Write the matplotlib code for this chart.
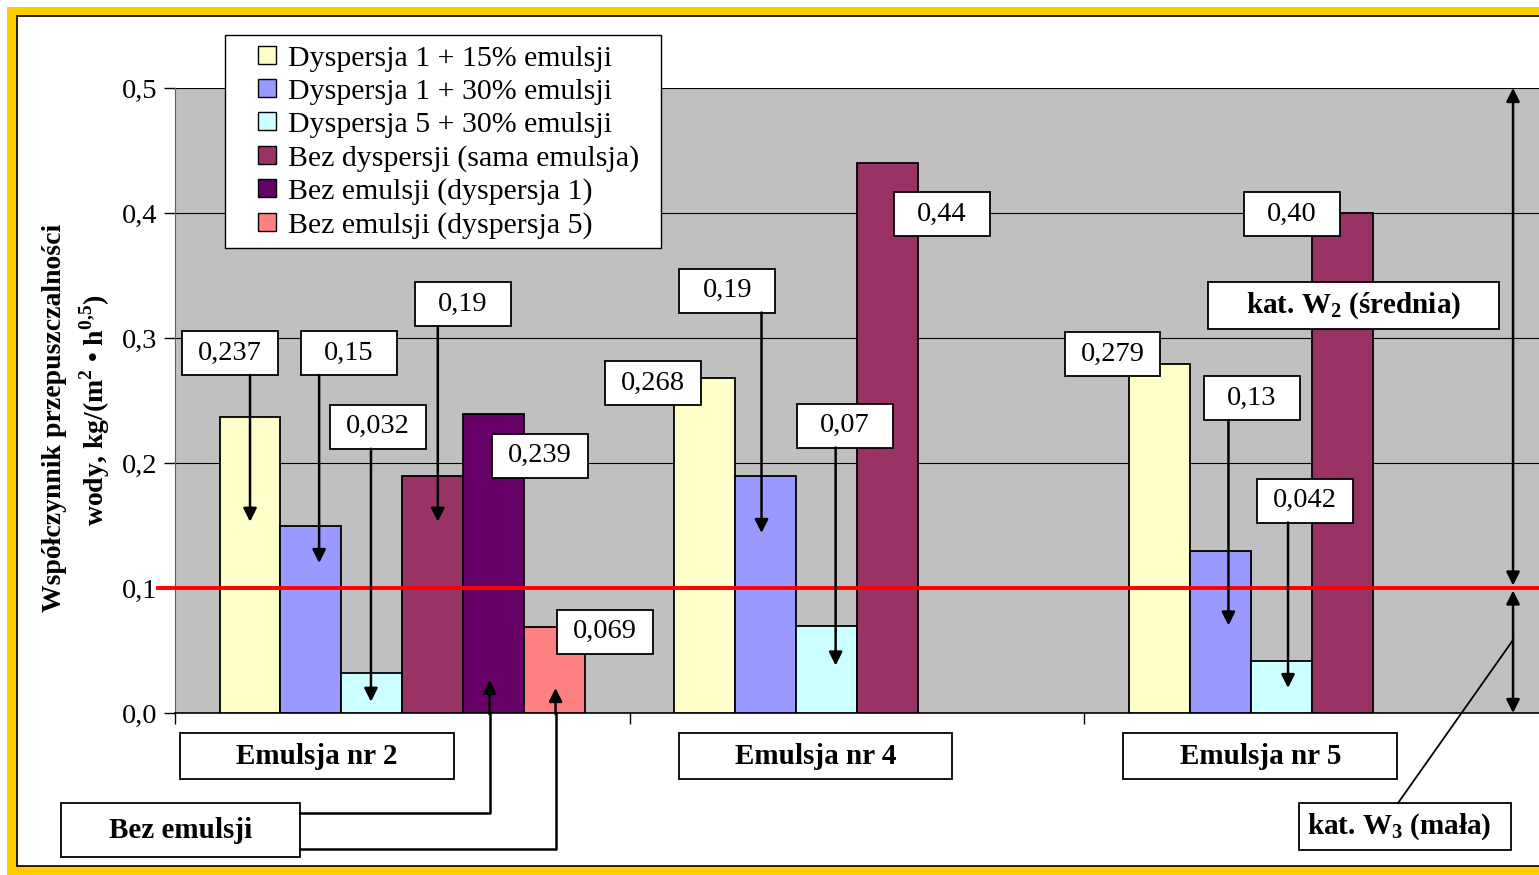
import matplotlib
matplotlib.use('Agg')
import matplotlib.pyplot as plt
from matplotlib.patches import Rectangle, Patch
from matplotlib.ticker import FuncFormatter

plt.rcParams['font.family'] = ['Liberation Serif', 'DejaVu Serif']
plt.rcParams['mathtext.fontset'] = 'custom'
plt.rcParams['mathtext.rm'] = 'Liberation Serif'
plt.rcParams['mathtext.bf'] = 'Liberation Serif:bold'

# dane
groups = ['Emulsja nr 2', 'Emulsja nr 4', 'Emulsja nr 5']
series_names = ['Dyspersja 1 + 15% emulsji', 'Dyspersja 1 + 30% emulsji',
                'Dyspersja 5 + 30% emulsji', 'Bez dyspersji (sama emulsja)',
                'Bez emulsji (dyspersja 1)', 'Bez emulsji (dyspersja 5)']
d1_15 = ['0,237', '0,268', '0,279']
d1_30 = ['0,15', '0,19', '0,13']
d5_30 = ['0,032', '0,07', '0,042']
bez_dysp = ['0,19', '0,44', '0,40']
bez_em_d1 = ['0,239', None, None]
bez_em_d5 = ['0,069', None, None]
series = [d1_15, d1_30, d5_30, bez_dysp, bez_em_d1, bez_em_d5]
colors = ['#FFFFCC', '#9999FF', '#CCFFFF', '#993366', '#660066', '#FF8080']
limit_w2 = 0.1

# polozenie etykiet: (przesuniecie ramki, wysokosc ramki, przesuniecie strzalki, koniec strzalki)
label_pos = [
    [(-0.044, 0.288, 0.0, 0.153), (-0.114, 0.264, None, None), (-0.103, 0.287, None, None)],
    [(0.084, 0.288, 0.018, 0.120), (-0.084, 0.338, -0.009, 0.144), (0.070, 0.252, 0.018, 0.070)],
    [(0.013, 0.229, -0.002, 0.009), (0.040, 0.230, 0.020, 0.038), (0.053, 0.170, 0.015, 0.020)],
    [(0.066, 0.327, 0.011, 0.153), (0.119, 0.399, None, None), (-0.110, 0.399, None, None)],
    [(0.101, 0.206, None, None), None, None],
    [(0.110, 0.065, None, None), None, None],
]
group_box_dx = [-0.188, -0.091, -0.113]

W, H = 1539, 875
fig = plt.figure(figsize=(W / 100, H / 100), dpi=100)
fig.patch.set_facecolor('white')

# ramka
fig.patches.append(Rectangle((7 / W, 0), 1, 868 / H, transform=fig.transFigure,
                             facecolor='#FFCC00', edgecolor='none', zorder=-10))
fig.patches.append(Rectangle((17 / W, 9 / H), 1, 850 / H, transform=fig.transFigure,
                             facecolor='white', edgecolor='black', lw=1.2, zorder=-9))

ax = fig.add_axes([175 / W, 1 - 713 / H, (W - 175) / W, 625 / H])
ax.set_facecolor('#C0C0C0')
ax.set_xlim(-0.5, 2.5)
ax.set_ylim(0, 0.5)

bw = 0.134
n = len(series)


def bar_x(g, i):
    return g - bw * n / 2 + (i + 0.5) * bw


def num(s):
    return float(s.replace(',', '.'))


bw_box, bh_box = 0.211, 0.0352


def boxed(x0, x1, y0, y1, text, size=20.5, weight='normal', tx=None, ha='center'):
    ax.add_patch(Rectangle((x0, y0), x1 - x0, y1 - y0, facecolor='white',
                           edgecolor='black', lw=1.3, clip_on=False, zorder=6))
    if tx is None:
        tx = (x0 + x1) / 2
    ax.text(tx, (y0 + y1) / 2, text, ha=ha, va='center', fontsize=size,
            fontweight=weight, zorder=7, clip_on=False)


def arrow(x0, y0, x1, y1, style='-|>'):
    ax.annotate('', xy=(x1, y1), xytext=(x0, y0), annotation_clip=False,
                arrowprops=dict(arrowstyle=style, color='black', lw=1.8,
                                mutation_scale=20, shrinkA=0, shrinkB=0),
                zorder=8)


for i, vals in enumerate(series):
    for g, s in enumerate(vals):
        if s is None:
            continue
        x = bar_x(g, i)
        ax.bar(x, num(s), width=bw, color=colors[i], edgecolor='black', lw=1.3, zorder=3)
        dx, yb, dax, ytip = label_pos[i][g]
        boxed(x + dx - bw_box / 2, x + dx + bw_box / 2, yb - bh_box / 2, yb + bh_box / 2, s)
        if ytip is not None:
            arrow(x + dax, yb - bh_box / 2, x + dax, ytip)

# granica kategorii W2 / W3
ax.plot([-0.537, 2.5], [limit_w2, limit_w2], color='#FF0000', lw=2.8,
        clip_on=False, zorder=5)

ax.set_axisbelow(True)
ax.yaxis.grid(True, color='black', lw=0.8)
ax.set_yticks([0, 0.1, 0.2, 0.3, 0.4, 0.5])
ax.yaxis.set_major_formatter(FuncFormatter(lambda v, p: f'{v:.1f}'.replace('.', ',')))
ax.tick_params(axis='y', direction='out', length=8, width=1, labelsize=20.5, pad=5)
ax.set_xticks([-0.5, 0.5, 1.5])
ax.set_xticklabels([])
ax.tick_params(axis='x', direction='out', length=8, width=1)
for side in ['top', 'right']:
    ax.spines[side].set_visible(False)
ax.spines['left'].set_color('#606060')
ax.spines['bottom'].set_color('black')
ax.spines['bottom'].set_linewidth(1.2)

# podpisy grup
for g, name in enumerate(groups):
    cx = g + group_box_dx[g]
    boxed(cx - 0.301, cx + 0.301, -0.0528, -0.016, name, size=21, weight='bold')

# Bez emulsji
boxed(-0.7505, -0.2253, -0.1152, -0.072, 'Bez emulsji', size=21, weight='bold')
x5 = bar_x(0, 4) - 0.009
x6 = bar_x(0, 5) + 0.002
ax.plot([-0.2253, x5, x5], [-0.080, -0.080, 0.0], color='black', lw=1.8, clip_on=False, zorder=8)
arrow(x5, -0.001, x5, 0.0264)
ax.plot([-0.2253, x6, x6], [-0.1088, -0.1088, 0.0], color='black', lw=1.8, clip_on=False, zorder=8)
arrow(x6, -0.001, x6, 0.020)

# kategorie przepuszczalnosci
xa = 2.4429
arrow(xa, limit_w2 + 0.002, xa, 0.5, style='<|-|>')
arrow(xa, 0.0, xa, limit_w2 - 0.002, style='<|-|>')
boxed(1.7725, 2.412, 0.3072, 0.3448, r'kat. W$_{\mathbf{2}}$ (średnia)', size=21, weight='bold')
boxed(1.9725, 2.4385, -0.1096, -0.072, r'kat. W$_{\mathbf{3}}$ (mała)', size=21,
      weight='bold', tx=1.99, ha='left')
ax.plot([2.19, xa], [-0.072, 0.0584], color='black', lw=1.3, clip_on=False, zorder=8)

# os Y
fig.text(61 / W, 1 - 418 / H, 'Współczynnik przepuszczalności', rotation=90,
         rotation_mode='anchor', ha='center', va='baseline', fontsize=20, fontweight='bold')
fig.text(104 / W, 1 - 410 / H, r'wody, kg/(m$^{\mathbf{2}}$ • h$^{\mathbf{0{,}5}}$)', rotation=90,
         rotation_mode='anchor', ha='center', va='baseline', fontsize=20, fontweight='bold')

# legenda
fig.patches.append(Rectangle((225 / W, 1 - 248 / H), 436 / W, 213 / H, transform=fig.transFigure,
                             facecolor='white', edgecolor='black', lw=1.0, zorder=4))
handles = [Patch(facecolor=c, edgecolor='black', lw=1.0) for c in colors]
leg = fig.legend(handles, series_names, loc='upper left',
                 bbox_to_anchor=(258 / W, 1 - 46 / H), fontsize=21.5, frameon=False,
                 handlelength=0.6, handleheight=0.55, handletextpad=0.4,
                 labelspacing=0.23, borderpad=0, borderaxespad=0)
leg.set_zorder(5)

fig.savefig('out.png', dpi=100)
